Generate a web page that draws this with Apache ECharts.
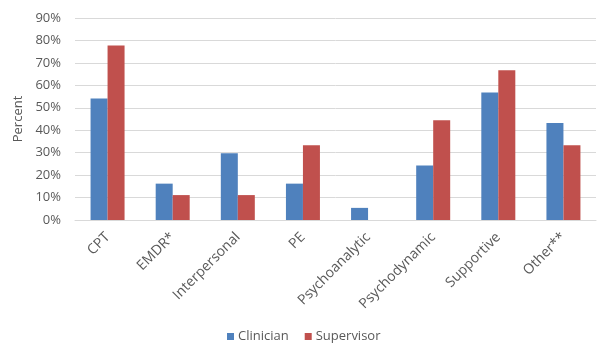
<!DOCTYPE html>
<html><head><meta charset="utf-8">
<script src="https://cdn.jsdelivr.net/npm/echarts@6/dist/echarts.min.js"></script>
<style>html,body{margin:0;padding:0;background:#fff}#c{width:597px;height:353px}</style>
</head><body><div id="c"></div>
<script>
const categories = ['CPT','EMDR*','Interpersonal','PE','Psychoanalytic','Psychodynamic','Supportive','Other**'];
const clinician = [54.1, 16.2, 29.7, 16.2, 5.4, 24.3, 56.8, 43.2];
const supervisor = [77.8, 11.1, 11.1, 33.3, 0, 44.4, 66.7, 33.3];
const seriesNames = ['Clinician','Supervisor'];
const font = '"Open Sans", "DejaVu Sans", sans-serif';
const chart = echarts.init(document.getElementById('c'));
chart.setOption({
  animation: false,
  textStyle: {fontFamily: font},
  grid: {left: 75, right: 1, top: 18, bottom: 133, containLabel: false},
  legend: {
    data: seriesNames, left: 222, top: 325, itemWidth: 7, itemHeight: 7, itemGap: 16,
    icon: 'rect',
    textStyle: {color: '#595959', fontSize: 13, fontFamily: font, padding: [0,0,0,-1]}
  },
  xAxis: {
    type: 'category', data: categories,
    axisLine: {lineStyle: {color: '#D9D9D9'}},
    axisTick: {show: false},
    axisLabel: {rotate: 45, color: '#595959', fontSize: 14, margin: 15, interval: 0, fontFamily: font}
  },
  yAxis: {
    type: 'value', min: 0, max: 90, interval: 10,
    name: 'Percent', nameLocation: 'middle', nameGap: 50, nameRotate: 90,
    nameTextStyle: {color: '#595959', fontSize: 13, fontFamily: font},
    axisLine: {show: false}, axisTick: {show: false},
    axisLabel: {formatter: '{value}%', color: '#595959', fontSize: 13, margin: 14, fontFamily: font},
    splitLine: {lineStyle: {color: '#D9D9D9', width: 1}}
  },
  series: [
    {name: seriesNames[0], type: 'bar', data: clinician, barWidth: 17, barGap: '0%',
     itemStyle: {color: '#4F81BD'}},
    {name: seriesNames[1], type: 'bar', data: supervisor, barWidth: 17,
     itemStyle: {color: '#C0504D'}}
  ]
});
</script></body></html>
